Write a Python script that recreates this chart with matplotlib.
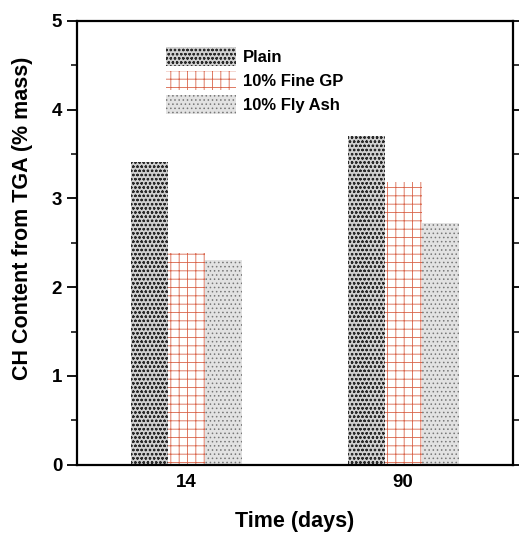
import numpy as np
import matplotlib
matplotlib.use('Agg')
import matplotlib.pyplot as plt

days = ['14', '90']
plain = [3.41, 3.70]
fine_gp = [2.38, 3.19]
fly_ash = [2.31, 2.72]

plt.rcParams['font.family'] = ['Liberation Sans', 'DejaVu Sans']
plt.rcParams['font.weight'] = 'bold'
plt.rcParams['axes.labelweight'] = 'bold'
plt.rcParams['hatch.linewidth'] = 0.6

fig = plt.figure(figsize=(5.19, 5.33), dpi=100)
ax = fig.add_axes([0.148, 0.128, 0.84, 0.833])

x = np.arange(len(days))
w = 0.17

ax.bar(x - w, plain, w, facecolor='#d0d0d0', edgecolor='#2a2a2a', hatch='oooo',
       linewidth=0, label='Plain')
ax.bar(x, fine_gp, w, facecolor='white', edgecolor='#d9644a', hatch='++',
       linewidth=0, label='10% Fine GP')
ax.bar(x + w, fly_ash, w, facecolor='#e2e2e2', edgecolor='#777777', hatch='....',
       linewidth=0, label='10% Fly Ash')

ax.set_xlim(-0.505, 1.505)
ax.set_ylim(0, 5)
ax.set_xticks(x)
ax.set_xticklabels(days, fontsize=13.5)
ax.set_yticks([0, 1, 2, 3, 4, 5])
ax.set_yticks(np.arange(0.5, 5, 1), minor=True)
ax.tick_params(axis='y', which='major', length=7, width=1.3, labelsize=13.5)
ax.tick_params(axis='y', which='minor', length=4, width=1.1)
ax.tick_params(axis='y', which='both', right=True)
ax.tick_params(axis='x', length=0, pad=7)
for s in ax.spines.values():
    s.set_linewidth(1.6)

ax.set_xlabel('Time (days)', fontsize=15.5)
ax.set_ylabel('CH Content from TGA (% mass)', fontsize=15.5)
ax.xaxis.set_label_coords(0.5, -0.104)
ax.yaxis.set_label_coords(-0.1, 0.556)

ax.legend(loc='upper left', bbox_to_anchor=(0.205, 0.94), frameon=False,
          fontsize=12, handlelength=4.2, handleheight=1.3, labelspacing=0.35,
          handletextpad=0.4, borderpad=0, borderaxespad=0)

fig.savefig('out.png')
